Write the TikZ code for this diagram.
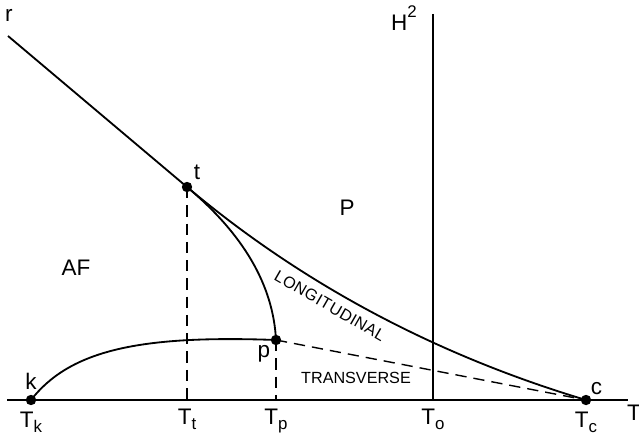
\documentclass[tikz,border=0pt]{standalone}
\usepackage{fontspec}
\setmainfont{Liberation Sans}
\usetikzlibrary{positioning}

\newcommand{\lowsub}[1]{\raisebox{-0.4ex}{\fontsize{12}{12}\selectfont #1}}

\begin{document}
\begin{tikzpicture}[
    every node/.style={font=\fontsize{16}{18}\selectfont},
    dot/.style={circle, fill=black, inner sep=0pt, minimum size=2.6mm},
    curve/.style={line width=1.3pt},
    guide/.style={dash pattern=on 8pt off 5pt, line width=1pt},
    small/.style={font=\fontsize{11.5}{13}\selectfont}
]
    \useasboundingbox (0,0) rectangle (15.975,11);

    % Axis and field line
    \coordinate (left) at (0.175,1.0);
    \coordinate (right) at (15.7,1.0);
    \coordinate (rtop) at (0.2,10.1);
    \coordinate (Htop) at (10.825,10.65);
    \coordinate (To) at (10.825,1.0);
    \draw[line width=0.9pt] (left) -- (right);
    \draw[line width=0.9pt] (Htop) -- (To);
    \node (r) at (0.22,10.62) {r};
    \node (H) at (10.1,10.55) {H\raisebox{1.1ex}{\fontsize{12}{12}\selectfont 2}};
    \node (T) at (15.85,0.68) {T};

    % Special points
    \node[dot, label={above:k}] (k) at (0.775,1.0) {};
    \node[dot, label={[label distance=-2pt]above right:t}] (t) at (4.675,6.325) {};
    \node[dot, label={[label distance=-3pt]below left:p}] (p) at (6.9,2.5) {};
    \node[dot, label={[label distance=-4pt]above right:c}] (c) at (14.65,1.0) {};
    \coordinate (Tt) at (4.675,1.0);
    \coordinate (Tp) at (6.9,1.0);

    % Phase boundaries
    \draw[curve] (rtop) -- (t.center) .. controls (7.555,3.905) and (10.88,2.13) .. (c.center);
    \draw[curve] (t.center) .. controls (6.09,5.14) and (6.83,3.87) .. (p.center);
    \draw[curve] (k.center) .. controls (1.75,2.25) and (3.5,2.625) .. (p.center);
    \draw[guide] (p.center) -- (c.center);
    \draw[guide] (t.center) -- (Tt);
    \draw[guide] (p.center) -- (Tp);

    % Temperatures
    \node[below=1pt of k] {T\lowsub{k}};
    \node[below=3pt of Tt] {T\lowsub{t}};
    \node[below=3pt of Tp] {T\lowsub{p}};
    \node[below=3pt of To] {T\lowsub{o}};
    \node[below=1pt of c] {T\lowsub{c}};

    % Phases
    \node (AF) at (1.9,4.3) {AF};
    \node (P) at (8.675,5.8) {P};
    \node[small, rotate=-30] (long) at (8.25,3.35) {\addfontfeature{LetterSpace=3}LONGITUDINAL};
    \node[small] (trans) at (8.9,1.55) {TRANSVERSE};
\end{tikzpicture}
\end{document}
